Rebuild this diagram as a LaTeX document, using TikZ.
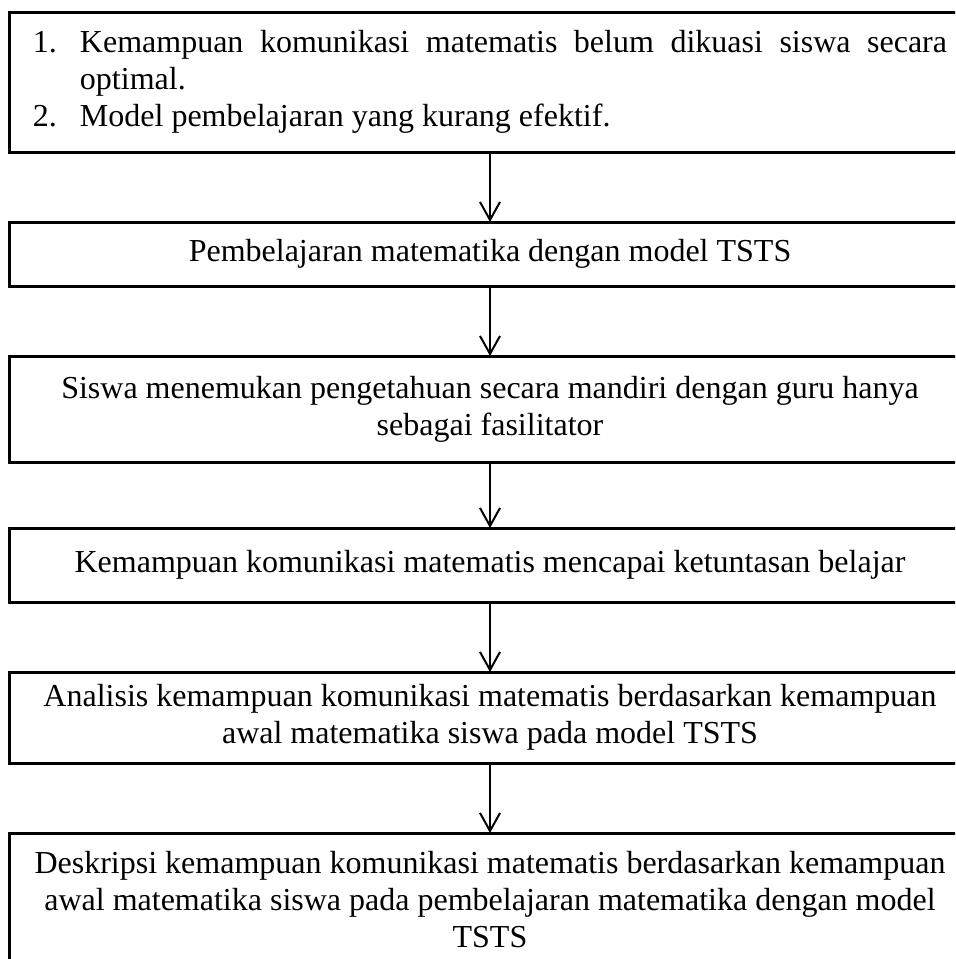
\documentclass[tikz,border=0pt]{standalone}
\usepackage{fontspec}
\setmainfont{Liberation Serif}
\usepackage{array}
\usetikzlibrary{positioning, arrows.meta}

\begin{document}
\begin{tikzpicture}[node distance=35pt,
	kotak/.style={draw, line width=1.5pt, minimum width=480pt, text width=470pt,
		execute at begin node={\centering\spaceskip=4pt plus 2pt minus 1pt\xspaceskip=4pt plus 2pt minus 1pt},
		inner sep=0pt, outer sep=0pt, font=\fontsize{16}{18.5}\selectfont},
	panah/.style={-{Straight Barb[length=9pt, width=10pt]}, line width=1pt}]

		% frame %
		\useasboundingbox (-5pt,6pt) rectangle (472.5pt,-473.5pt);
		\clip (-5pt,6pt) rectangle (472.5pt,-473.5pt);

		% nodes - boxes of the flow %
		\node[kotak, anchor=north west, minimum height=70pt] (masalah) at (0,0)
			{\begin{tabular}{@{}p{23.5pt}@{}l@{}}
				1. & \makebox[433.5pt][s]{Kemampuan komunikasi matematis belum dikuasi siswa secara} \\
				   & optimal. \\
				2. & Model pembelajaran yang kurang efektif.
			\end{tabular}};
		\node[kotak, below=of masalah, minimum height=32pt] (tsts) {Pembelajaran matematika dengan model TSTS};
		\node[kotak, below=of tsts, minimum height=53pt] (mandiri) {Siswa menemukan pengetahuan secara mandiri dengan guru hanya\\ sebagai fasilitator};
		\node[kotak, below=33pt of mandiri, minimum height=37pt] (tuntas) {Kemampuan komunikasi matematis mencapai ketuntasan belajar};
		\node[kotak, below=of tuntas, minimum height=45.5pt] (analisis) {Analisis kemampuan komunikasi matematis berdasarkan kemampuan\\ awal matematika siswa pada model TSTS};
		\node[kotak, below=of analisis, minimum height=67pt] (deskripsi) {Deskripsi kemampuan komunikasi matematis berdasarkan kemampuan\\ awal matematika siswa pada pembelajaran matematika dengan model\\ TSTS};

		% edges %
		\draw[panah] (masalah) -- (tsts);
		\draw[panah] (tsts) -- (mandiri);
		\draw[panah] (mandiri) -- (tuntas);
		\draw[panah] (tuntas) -- (analisis);
		\draw[panah] (analisis) -- (deskripsi);

\end{tikzpicture}
\end{document}
